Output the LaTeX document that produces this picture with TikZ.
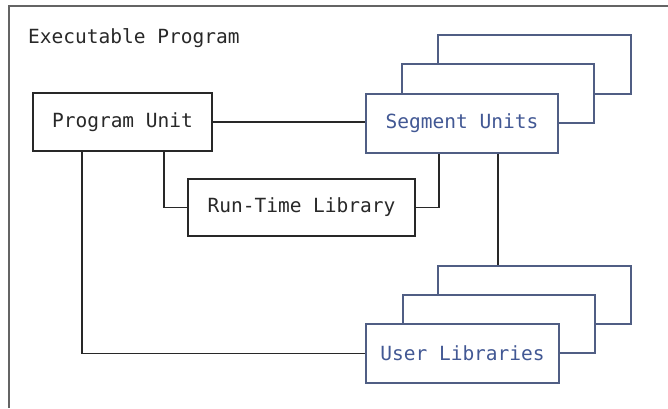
\documentclass[tikz,border=0pt]{standalone}
\usepackage{fontspec}
\setmonofont{DejaVu Sans Mono}
\definecolor{boxblue}{RGB}{80,94,132}
\definecolor{textblue}{RGB}{66,88,148}
\definecolor{linegray}{RGB}{40,40,40}
\definecolor{framegray}{RGB}{100,100,100}
\begin{document}
\begin{tikzpicture}[x=1pt,y=-1pt,
  every node/.style={font=\ttfamily\fontsize{19.5}{22}\selectfont, inner sep=0pt},
  blk/.style={draw=linegray, line width=1.2pt, fill=white},
  blu/.style={draw=boxblue, line width=1.2pt, fill=white, text=textblue},
  conn/.style={draw=linegray, line width=1.2pt}]
\useasboundingbox (0,0) rectangle (668,408);
\draw[draw=framegray, line width=1.2pt] (9,408) -- (9,6) -- (668,6);
\node[anchor=base west, text=linegray] (title) at (28,43) {Executable Program};
% Program unit
\node[blk, minimum width=179pt, minimum height=58pt, text=linegray] (pu) at (122.5,122) {Program Unit};
% Run-time library
\node[blk, minimum width=227pt, minimum height=57pt, text=linegray] (rtl) at (301.5,207.5) {Run-Time Library};
% Segment units stack
\node[blu, minimum width=193pt, minimum height=59pt] (sub) at (534.5,64.5) {};
\node[blu, minimum width=192pt, minimum height=59pt] (sum) at (498,93.5) {};
\node[blu, minimum width=192pt, minimum height=59pt] (su) at (462,123.5) {Segment Units};
% User libraries stack
\node[blu, minimum width=193pt, minimum height=58pt] (ulb) at (534.5,295) {};
\node[blu, minimum width=192pt, minimum height=58pt] (ulm) at (499,324) {};
\node[blu, minimum width=193pt, minimum height=59pt] (ul) at (462.5,353.5) {User Libraries};
% connectors
\draw[conn] (pu.east) -- (pu.east -| su.west);
\draw[conn] (rtl.west) -| ([xshift=41.5pt]pu.south);
\draw[conn] (rtl.east) -| ([xshift=-23pt]su.south);
\draw[conn] ([xshift=36pt]su.south) -- ([xshift=36pt]su.south |- ulb.north);
\draw[conn] ([xshift=-40.5pt]pu.south) |- (ul.west);
\end{tikzpicture}
\end{document}
